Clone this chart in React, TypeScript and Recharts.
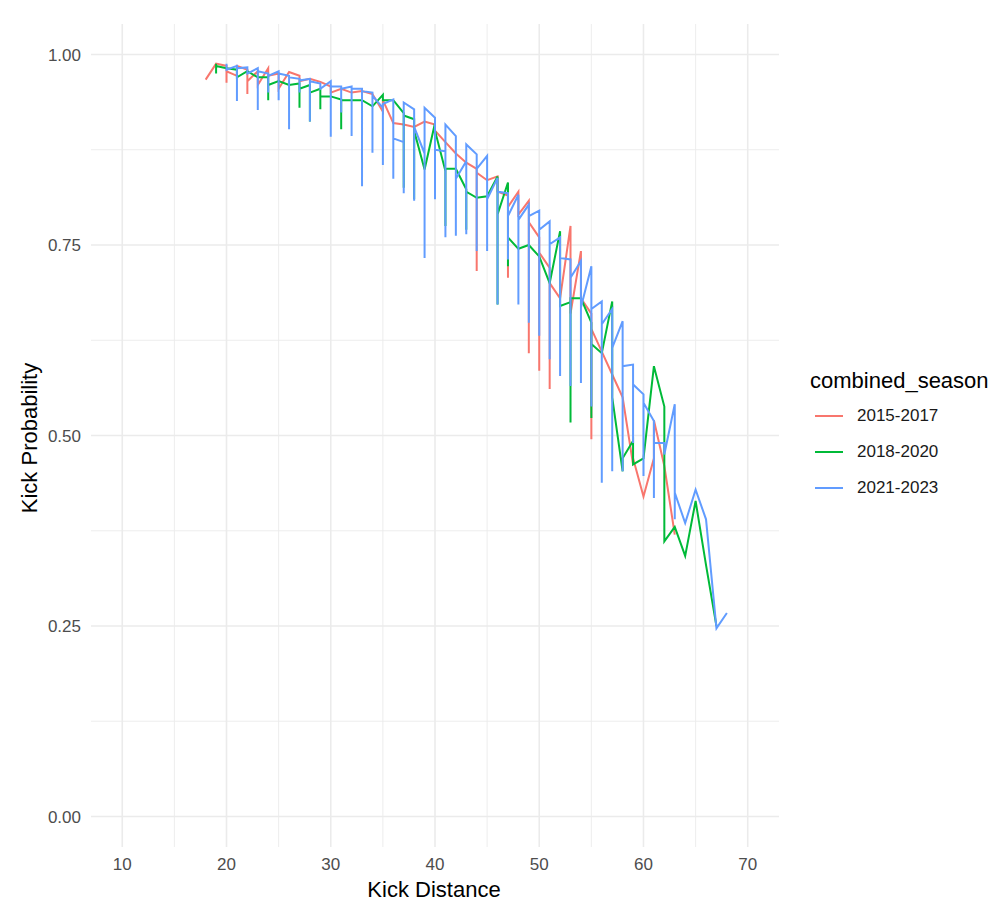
import { LineChart, Line, XAxis, YAxis, CartesianGrid } from 'recharts';

type Row = [number, number[]];

// kick distance -> probabilities observed at that distance (in plot order)
const kicks1517: Row[] = [
  [18, [0.967]], [19, [0.988]], [20, [0.985, 0.963, 0.978]], [21, [0.972, 0.985]],
  [22, [0.98, 0.948, 0.965]], [23, [0.978, 0.96]], [24, [0.982, 0.972]], [25, [0.975, 0.955]],
  [26, [0.977]], [27, [0.972, 0.965]], [28, [0.968]], [29, [0.964]], [30, [0.958, 0.95]],
  [31, [0.955]], [32, [0.95]], [33, [0.952]], [34, [0.948]], [35, [0.925, 0.94]],
  [36, [0.91]], [37, [0.908]], [38, [0.905]], [39, [0.912]], [40, [0.908, 0.9]],
  [41, [0.885]], [42, [0.87]], [43, [0.858]], [44, [0.85, 0.716, 0.845]], [45, [0.835]],
  [46, [0.84, 0.82]], [47, [0.815, 0.707, 0.8]], [48, [0.82, 0.79]], [49, [0.808, 0.608, 0.78]],
  [50, [0.76, 0.585, 0.74]], [51, [0.72, 0.561, 0.7]], [52, [0.68]], [53, [0.775, 0.66]],
  [54, [0.742, 0.68]], [55, [0.66, 0.495, 0.64]], [56, [0.61]], [57, [0.58]], [58, [0.55]],
  [59, [0.462, 0.47]], [60, [0.42]], [61, [0.47, 0.52]], [62, [0.46]], [63, [0.37]]
];

const kicks1820: Row[] = [
  [19, [0.988, 0.975, 0.985]], [20, [0.982]], [21, [0.98, 0.97]], [22, [0.978]], [23, [0.97]],
  [24, [0.97, 0.94, 0.96]], [25, [0.965]], [26, [0.96]], [27, [0.962, 0.93, 0.955]],
  [28, [0.96, 0.912, 0.95]], [29, [0.955, 0.928, 0.945]], [30, [0.945]], [31, [0.941, 0.902, 0.94]],
  [32, [0.94]], [33, [0.94]], [34, [0.932]], [35, [0.947, 0.94]], [36, [0.94]],
  [37, [0.923, 0.825, 0.92]], [38, [0.915, 0.81, 0.9]], [39, [0.849]], [40, [0.91, 0.9]],
  [41, [0.847, 0.775, 0.85]], [42, [0.85]], [43, [0.823, 0.77, 0.82]], [44, [0.812]], [45, [0.814]],
  [46, [0.84, 0.672, 0.79]], [47, [0.832, 0.722, 0.76]], [48, [0.745]], [49, [0.75]], [50, [0.735]],
  [51, [0.7]], [52, [0.768, 0.67]], [53, [0.675, 0.517, 0.68]], [54, [0.68]], [55, [0.648, 0.523, 0.62]],
  [56, [0.608]], [57, [0.676, 0.55]], [58, [0.453, 0.47]], [59, [0.493, 0.462]], [60, [0.47]],
  [61, [0.591]], [62, [0.538, 0.361]], [63, [0.38]], [64, [0.342]], [65, [0.414]], [66, [0.33]],
  [67, [0.25]]
];

const kicks2123: Row[] = [
  [20, [0.988, 0.98]], [21, [0.985, 0.939, 0.982]], [22, [0.983, 0.975]], [23, [0.982, 0.927, 0.978]],
  [24, [0.975, 0.95, 0.972]], [25, [0.978, 0.94, 0.975]], [26, [0.972, 0.902, 0.97]],
  [27, [0.968, 0.95, 0.966]], [28, [0.968, 0.912, 0.965]], [29, [0.962, 0.955]],
  [30, [0.965, 0.892, 0.958]], [31, [0.958, 0.924, 0.955]], [32, [0.958, 0.893, 0.955]],
  [33, [0.955, 0.827, 0.952]], [34, [0.95, 0.871, 0.946]], [35, [0.93, 0.855, 0.935]],
  [36, [0.941, 0.837, 0.89]], [37, [0.885, 0.818, 0.937]], [38, [0.928, 0.808, 0.905]],
  [39, [0.87, 0.733, 0.93]], [40, [0.917, 0.81, 0.875]], [41, [0.873, 0.76, 0.908]],
  [42, [0.893, 0.762, 0.837]], [43, [0.86, 0.764, 0.882]], [44, [0.869, 0.742, 0.85]],
  [45, [0.867, 0.742, 0.81]], [46, [0.838, 0.672, 0.82]], [47, [0.818, 0.731, 0.788]],
  [48, [0.816, 0.672, 0.783]], [49, [0.803, 0.648, 0.788]], [50, [0.795, 0.631, 0.77]],
  [51, [0.781, 0.6, 0.751]], [52, [0.76, 0.578, 0.733]], [53, [0.731, 0.565, 0.707]],
  [54, [0.729, 0.569, 0.668]], [55, [0.722, 0.538, 0.666]], [56, [0.676, 0.438, 0.646]],
  [57, [0.666, 0.453, 0.615]], [58, [0.65, 0.453, 0.591]], [59, [0.593, 0.49, 0.567]],
  [60, [0.554, 0.447, 0.543]], [61, [0.519, 0.418, 0.49]], [62, [0.49, 0.475]],
  [63, [0.541, 0.39, 0.425]], [64, [0.385]], [65, [0.429]], [66, [0.39]], [67, [0.247]], [68, [0.267]]
];

const seasons = ['2015-2017', '2018-2020', '2021-2023'];
const colors = ['#F8766D', '#00BA38', '#619CFF'];
const xMajor = [10, 20, 30, 40, 50, 60, 70];
const xMinor = [15, 25, 35, 45, 55, 65];
const yMajor = [0, 0.25, 0.5, 0.75, 1];
const yMinor = [0.125, 0.375, 0.625, 0.875];

const toPoints = (rows: Row[]) => rows.flatMap(([x, ys]) => ys.map((y) => ({ x, y })));
const seriesData = [kicks1517, kicks1820, kicks2123].map(toPoints);

const font = '"Liberation Sans", Arial, Helvetica, sans-serif';
const tick = { fill: '#4d4d4d', fontSize: 17, fontFamily: font };

export default function App() {
  return (
    <div style={{ position: 'relative', width: 995, height: 895, fontFamily: font, background: '#fff' }}>
      <LineChart width={995} height={895} margin={{ top: 16, right: 224, bottom: 0, left: 23 }}>
        <CartesianGrid stroke='#ebebeb' strokeWidth={0.9} verticalValues={xMinor} horizontalValues={yMinor} />
        <CartesianGrid stroke='#ebebeb' strokeWidth={1.6} verticalValues={xMajor} horizontalValues={yMajor} />
        <XAxis
          dataKey='x'
          type='number'
          domain={[7, 73]}
          ticks={xMajor}
          allowDataOverflow
          axisLine={false}
          tickLine={false}
          tickSize={0}
          tickMargin={11}
          height={56}
          tick={tick}
        />
        <YAxis
          dataKey='y'
          type='number'
          domain={[-0.04, 1.04]}
          ticks={yMajor}
          allowDataOverflow
          axisLine={false}
          tickLine={false}
          tickSize={0}
          tickMargin={10}
          width={60}
          tick={tick}
          tickFormatter={(v: number) => v.toFixed(2)}
        />
        {seriesData.map((d, i) => (
          <Line
            key={seasons[i]}
            data={d}
            dataKey='y'
            name={seasons[i]}
            type='linear'
            stroke={colors[i]}
            strokeWidth={2}
            dot={false}
            activeDot={false}
            isAnimationActive={false}
          />
        ))}
      </LineChart>

      <div style={{ position: 'absolute', left: 260, top: 868, width: 332, textAlign: 'center', fontSize: 22, color: '#000', lineHeight: '28px' }}>
        Kick Distance
      </div>
      <div
        style={{
          position: 'absolute', left: 22, top: 430, width: 300, marginLeft: -150, marginTop: -14,
          textAlign: 'center', fontSize: 22, lineHeight: '28px', transform: 'rotate(-90deg)'
        }}
      >
        Kick Probability
      </div>

      <div style={{ position: 'absolute', left: 802, top: 359, fontSize: 22, lineHeight: '28px' }}>combined_season</div>
      {seasons.map((s, i) => (
        <div key={s} style={{ position: 'absolute', left: 807, top: 396 + i * 36, height: 24, display: 'flex', alignItems: 'center' }}>
          <svg width={28} height={24} style={{ display: 'block' }}>
            <line x1={0} y1={12} x2={28} y2={12} stroke={colors[i]} strokeWidth={2} />
          </svg>
          <span style={{ marginLeft: 14, fontSize: 17, color: '#1a1a1a' }}>{s}</span>
        </div>
      ))}
    </div>
  );
}
